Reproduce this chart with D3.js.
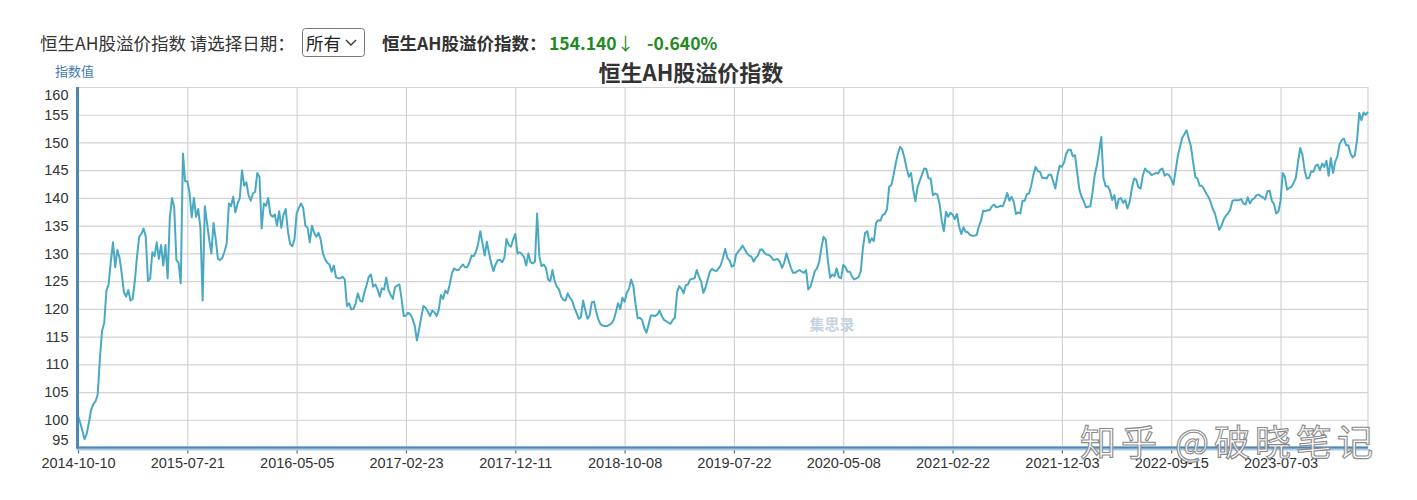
<!DOCTYPE html>
<html><head><meta charset="utf-8">
<script src="https://cdn.jsdelivr.net/npm/d3@7"></script>
<style>
html,body{margin:0;padding:0;background:#fff;}
svg{display:block;}
</style></head>
<body>
<svg id="chart" width="1417" height="500"></svg>
<script>
// ---- data ----
const title = "恒生AH股溢价指数";
const yAxisName = "指数值";
const latestValue = "154.140";
const latestChange = "-0.640%";
const xTickLabels = ["2014-10-10","2015-07-21","2016-05-05","2017-02-23","2017-12-11","2018-10-08","2019-07-22","2020-05-08","2021-02-22","2021-12-03","2022-09-15","2023-07-03"];
const yTicks = [95,100,105,110,115,120,125,130,135,140,145,150,155,160];
const ticksEvery = 50; // data points between two x labels
const seg2014 = [100.7,99.5,98,96.5,97.5,99.5,101.8,102.8,103.3,104.5,111,116,117.5,123.3,124.4,128.5,132,127.5,130.6,129.2,126.4,123,122.2,123.4,121.5,121.8,125,129.5,133,133.5,134.5,133,125,125.5,130.2,129.5,132,129,131.5,127.8,131.5,125.5,136.5,140,138.3,128.8,128.3,124.6,148,143];
const seg2015 = [143,141,136.5,140,136.6,138,134.5,121.5,138.5,135.5,132.5,130,135.5,132.5,129,128.8,129.2,130.3,131.8,139,138.5,140.2,137.4,139,140,145,142.2,142.8,140.5,139.5,140.8,141.1,144.5,143.8,134.5,139,138.6,140,137,136.6,137,135,137.6,134.6,137,138,134,131.7,131.3,132.5];
const seg2016 = [137.2,138.2,139,138.2,135,134.6,132,135,133.7,133,133.7,132.5,130,129,128.3,128,126.7,127.8,125.7,125.5,125.5,125.8,125.3,120.5,121,119.9,120,121,122.8,121.5,121.3,123,124.3,125.8,126.2,124,124.4,123.5,122.2,123.7,123.5,125.6,123.4,122.5,121.8,123.9,124.2,124.4,121.8,118.7];
const seg2017a = [118.8,119.3,119,118.2,117,114.3,116.3,118.5,120.5,120.2,119.5,118.7,119.7,119.4,118.7,119.8,122.5,121.8,123.3,122.8,124.4,126.4,127.3,127,127,127.5,128,127.5,127.5,128.3,129.6,129.5,130.3,131.7,134,131.8,129.6,132.1,130,128.2,126.8,128,128.8,128.8,128.4,129.2,132.6,131.5,131.2,132.5];
const seg2017b = [133.5,130,130.2,129.9,129.3,127.8,130,128.4,128.2,128.5,137.2,129.5,127.7,128,127.4,125.3,125,127,125,124,123.5,122.2,121.6,121.5,122.8,122,121.5,120.2,119.3,118.2,118.5,121.5,119.8,118.2,118.8,121.2,121.3,119.5,118.1,117.2,117,116.9,116.9,117.1,117.4,118,119.4,121,120,122];
const seg2018 = [121.3,122.9,123.6,125.3,124.1,120.8,118.3,118.4,118,116.5,115.7,117.2,118.8,118.8,118.7,119,119.7,118.7,118,117.8,117.5,117.3,118,118.4,123,124.1,123.6,122.8,124.3,124.4,125.3,125.4,125.5,127,125.8,124.9,122.9,123.8,125.3,126.7,127.2,126.9,126.8,127.3,127.9,129.2,130.8,129.2,128.7,127.6];
const seg2019 = [127.8,129.8,130.3,130.8,131.4,130.7,130,129.6,129.4,128.5,129.2,129.6,130.7,130.7,130.1,129.8,129.7,129.4,128.8,128.9,129,128.5,127.4,128.3,130,128.7,127.5,126.5,126.5,126.8,127,126.7,126.5,127,123.5,124,125.4,126.8,127.3,128.5,131,133,132.5,128.6,125.6,126.2,125.9,127.3,125.7,125.5];
const seg2020 = [127.9,127.5,126.7,126.7,125.8,125.3,125.5,125.7,126.8,131,133.7,134,131.9,132.7,132.2,135.5,136,135.9,136.9,137.1,138,142,142.3,144.1,146.2,148,149.2,148.7,147.2,145.3,143.8,144.5,141.5,139.4,142,143.1,144.2,145.3,145.2,143.5,143.5,140.5,140.8,140.6,139,136,134,137.5,136.6,137.3];
const seg2021a = [137,136.2,137.1,134.8,133.5,134.7,133.9,133.8,133.3,133.2,133.2,133.3,134.8,135.9,137.7,137.6,137.8,137.8,138.5,138.8,138.3,138.4,138.6,138.5,139.6,140.9,139.5,140.2,139.3,137.1,137.4,137.2,139.5,139.5,140.7,140.8,142.3,144.2,145.6,144.8,144.7,143.6,143.6,143.5,144.2,144.2,143,141.7,144.1,145.8];
const seg2021b = [145.6,146.4,148,148.7,148.7,147.5,147.7,144.5,141.5,140.2,139.4,138.3,138.4,138.5,141,144.1,145.9,148.3,151,143.6,142.1,142.1,141.3,139.6,140.5,138.1,139.8,140,139.1,139.6,138.1,139.3,141.7,143.5,143.3,141.9,141.7,144,145.3,144.8,144.6,144.1,144.3,144.5,144.4,145.1,145.3,144,144.3,144.1];
const seg2022 = [143.4,142.4,144.9,147.5,149.2,150.8,151.5,152.2,150.7,149.3,146.5,143.8,143.5,142.2,142.2,141.6,140.8,140.2,139.3,138,137.2,135.6,134.2,135,136.1,136.8,137.2,137.9,139.5,139.6,139.6,139.6,139.8,139,138.8,140.1,139,139.7,139.9,140.5,140.6,140.3,140.1,139.7,141.2,141.3,139.5,138.9,137.2,137.5];
const seg2023 = [139.5,144.5,143.8,141.5,141.8,142,142.7,143.6,146.5,149,147.8,145,143.5,143.6,144.8,144.7,145.8,146,145,146.2,145.6,146.7,144,147.2,144.5,146.5,147.5,149.7,150.4,150.7,149.5,149.5,148,147.3,147.7,150.5,155.3,154,155.4,155,155.5];
const values = [].concat(seg2014, seg2015, seg2016, seg2017a, seg2017b, seg2018, seg2019, seg2020, seg2021a, seg2021b, seg2022, seg2023);

// ---- layout ----
const svg = d3.select("#chart");
const plot = {left: 77.5, right: 1368, top: 87, bottom: 447.5};
const cjk = "'Noto Sans CJK SC','Noto Sans',sans-serif";
const latin = "'Liberation Sans',Arial,sans-serif";

const x = d3.scaleLinear().domain([0, values.length - 1]).range([plot.left + 0.5, plot.right]);
const y = d3.scaleLinear().domain([95, 160]).range([plot.bottom, plot.top]);

// header
const hdr = svg.append("g").attr("font-family", cjk);
hdr.append("text").attr("x", 40).attr("y", 50).attr("font-size", 17.5).attr("fill", "#333").text("恒生AH股溢价指数 请选择日期：");
hdr.append("rect").attr("x", 302.5).attr("y", 28.5).attr("width", 62).attr("height", 28).attr("rx", 3).attr("fill", "#fff").attr("stroke", "#767676");
hdr.append("text").attr("x", 306).attr("y", 50).attr("font-size", 17.5).attr("fill", "#222").text("所有");
hdr.append("path").attr("d", "M346,40 L351,45 L356,40").attr("fill", "none").attr("stroke", "#333").attr("stroke-width", 1.4);
hdr.append("text").attr("x", 382).attr("y", 50).attr("font-size", 17.5).attr("font-weight", "bold").attr("fill", "#333").text("恒生AH股溢价指数：");
const gv = hdr.append("text").attr("x", 549).attr("y", 50).attr("font-size", 17.5).attr("fill", "#238a23");
gv.append("tspan").attr("font-weight", "bold").text(latestValue);
gv.append("tspan").attr("font-weight", "normal").text("↓");
hdr.append("text").attr("x", 647).attr("y", 50).attr("font-size", 17.5).attr("font-weight", "bold").attr("fill", "#238a23").text(latestChange);

// title & axis name
svg.append("text").attr("x", 691).attr("y", 81).attr("text-anchor", "middle").attr("font-family", cjk).attr("font-size", 22).attr("font-weight", "bold").attr("fill", "#333").text(title);
svg.append("text").attr("x", 55).attr("y", 76).attr("font-family", cjk).attr("font-size", 13).attr("fill", "#3f7bb0").text(yAxisName);

// grid
const gy = svg.append("g").attr("transform", `translate(${plot.left},0)`)
  .call(d3.axisLeft(y).tickValues(yTicks.filter(v => v > 95)).tickSize(-(plot.right - plot.left)).tickFormat(""));
gy.select(".domain").remove();
gy.selectAll("line").attr("stroke", "#d3d3d3").attr("stroke-width", 1.2);

const xTickIdx = xTickLabels.map((d, i) => i * ticksEvery);
const gx = svg.append("g").attr("transform", `translate(0,${plot.top})`)
  .call(d3.axisBottom(x).tickValues(xTickIdx.slice(1)).tickSize(plot.bottom - plot.top).tickFormat(""));
gx.select(".domain").remove();
gx.selectAll("line").attr("stroke", "#d3d3d3").attr("stroke-width", 1.2);
svg.append("line").attr("x1", plot.right).attr("x2", plot.right).attr("y1", plot.top).attr("y2", plot.bottom).attr("stroke", "#d3d3d3").attr("stroke-width", 1.2);

// watermark 集思录
svg.append("text").attr("x", 832).attr("y", 330).attr("text-anchor", "middle").attr("font-family", cjk).attr("font-size", 15).attr("font-weight", "bold").attr("fill", "#c3d3e0").text("集思录");

// line
svg.append("path").datum(values)
  .attr("fill", "none").attr("stroke", "#4aa9c2").attr("stroke-width", 2).attr("stroke-linejoin", "round")
  .attr("d", d3.line().x((d, i) => x(i)).y(d => y(d)));

// y axis labels
const ya = svg.append("g").attr("transform", `translate(${plot.left},0)`)
  .call(d3.axisLeft(y).tickValues(yTicks).tickSize(0).tickPadding(9));
ya.select(".domain").remove();
ya.selectAll("text").attr("font-family", latin).attr("font-size", 14.5).attr("fill", "#333")
  .attr("y", d => d === 160 ? 8 : (d === 95 ? -8 : 0));

// x axis
const xa = svg.append("g").attr("transform", `translate(0,${plot.bottom})`)
  .call(d3.axisBottom(x).tickValues(xTickIdx).tickSize(6).tickPadding(4).tickFormat((d, i) => xTickLabels[i]));
xa.select(".domain").remove();
xa.selectAll("line").attr("stroke", "#666").attr("stroke-width", 1.2);
xa.selectAll("text").attr("font-family", latin).attr("font-size", 14.5).attr("fill", "#333");

// axis lines
svg.append("line").attr("x1", plot.left - 1).attr("x2", plot.right).attr("y1", plot.bottom + 1).attr("y2", plot.bottom + 1).attr("stroke", "#a9cbe6").attr("stroke-width", 4);
svg.append("line").attr("x1", plot.left - 1).attr("x2", plot.right).attr("y1", plot.bottom).attr("y2", plot.bottom).attr("stroke", "#4f86b8").attr("stroke-width", 2);
svg.append("line").attr("x1", plot.left).attr("x2", plot.left).attr("y1", plot.top).attr("y2", plot.bottom + 1).attr("stroke", "#4f86b8").attr("stroke-width", 3);

// watermark 知乎
svg.append("text").attr("x", 1080).attr("y", 456).attr("font-family", cjk).attr("font-size", 36).attr("letter-spacing", 5)
  .attr("fill", "rgba(255,255,255,0.85)").attr("stroke", "#8a8a8a").attr("stroke-width", 1.1).text("知乎 @破晓笔记");
</script>
</body></html>
